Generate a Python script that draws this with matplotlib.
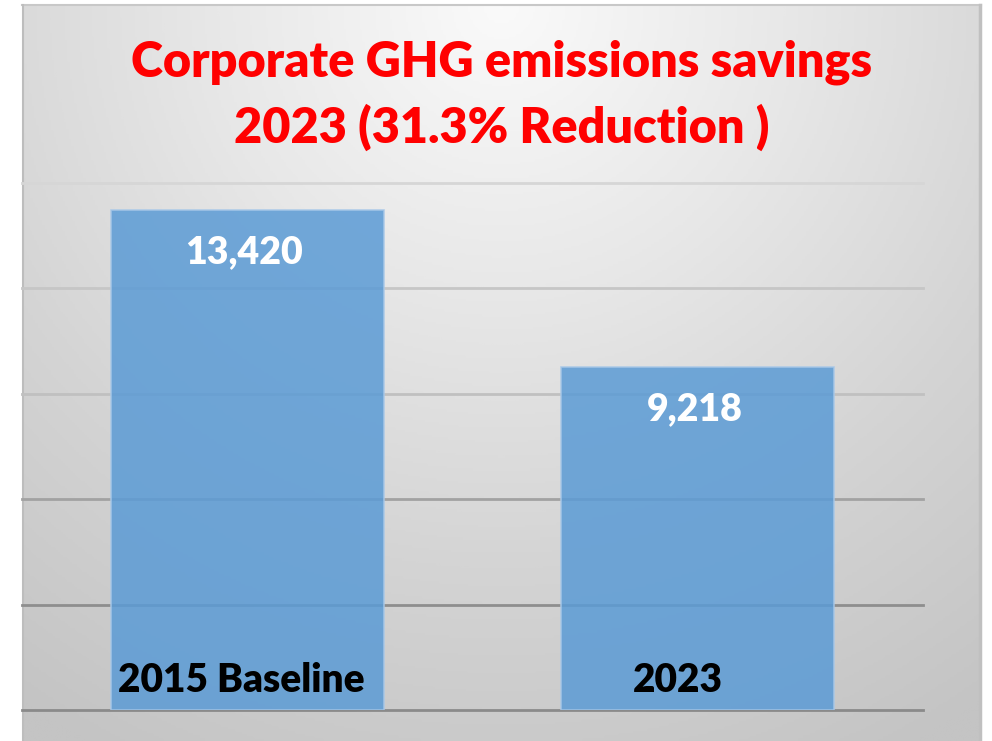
import numpy as np
import matplotlib
matplotlib.use("Agg")
import matplotlib.pyplot as plt
from matplotlib.colors import LinearSegmentedColormap

# ---- data ----
categories = ["2015 Baseline", "2023"]
values = [13420, 9218]
value_labels = ["13,420", "9,218"]
title_lines = ["Corporate GHG emissions savings", "2023 (31.3% Reduction )"]

W, H = 992, 741
fig = plt.figure(figsize=(W / 100, H / 100), dpi=100)
fig.patch.set_facecolor("white")

# background panel with radial gradient
bx0, by0, bx1, by1 = 22, 5, 981, 741
bg = fig.add_axes([bx0 / W, 1 - by1 / H, (bx1 - bx0) / W, (by1 - by0) / H])
bg.set_axis_off()
ny, nx = 300, 400
yy, xx = np.mgrid[0:ny, 0:nx]
xn = (xx / (nx - 1) - 0.5) * 1.3
yn = yy / (ny - 1) * 1.0
r = np.sqrt(xn ** 2 + yn ** 2)
r = np.clip(r / 1.15, 0, 1)
cmap = LinearSegmentedColormap.from_list("bgc", ["#fafafa", "#e8e8e8", "#d4d4d4", "#c4c4c4"])
bg.imshow(r, cmap=cmap, aspect="auto", extent=[0, 1, 0, 1], origin="upper", vmin=0, vmax=1)
bg.set_xlim(0, 1)
bg.set_ylim(0, 1)
bg.plot([0, 1], [0.9995, 0.9995], color="#c8c8c8", lw=1.5, transform=bg.transAxes, clip_on=False)
bg.plot([0.0008, 0.0008], [0, 1], color="#bdbdbd", lw=1.5, transform=bg.transAxes, clip_on=False)
bg.plot([0.9985, 0.9985], [0, 1], color="#c0c0c0", lw=2.5, transform=bg.transAxes, clip_on=False)

# plot axes
px0, py0, px1, py1 = 22, 183, 923, 710
ax = fig.add_axes([px0 / W, 1 - py1 / H, (px1 - px0) / W, (py1 - py0) / H])
ax.patch.set_alpha(0)
for s in ax.spines.values():
    s.set_visible(False)

bar_h = 500  # px of the first bar
ymax = values[0] * (py1 - py0) / bar_h
ax.set_ylim(0, ymax)
ax.set_xlim(-0.5, 1.5)

grid_vals = np.linspace(0, ymax, 6)
grid_cols = ["#8a8a8a", "#8e8e8e", "#a2a2a2", "#c0c0c0", "#c6c6c6", "#d6d6d6"]
for gv, gc in zip(grid_vals, grid_cols):
    ax.axhline(gv, color=gc, lw=2, zorder=1, clip_on=False)

x = np.arange(len(categories))
bars = ax.bar(x, values, width=0.606, color="#5b9bd5", alpha=0.85,
              edgecolor="#a8c8e8", linewidth=1.2, zorder=2)

ax.set_xticks([])
ax.set_yticks([])

font = "Lato"
for xi, v, lab in zip(x, values, value_labels):
    ax.annotate(lab, (xi, v), xytext=(-2, -38.5), textcoords="offset points",
                ha="center", va="baseline", color="white", fontsize=27,
                fontweight="heavy", family=font, zorder=3)

cat_offsets = [-4, -14]
for xi, cat, off in zip(x, categories, cat_offsets):
    ax.annotate(cat, (xi, 0), xytext=(off, 13), textcoords="offset points",
                ha="center", va="baseline", color="black", fontsize=28,
                fontweight="heavy", family=font, zorder=3)

fig.text(502 / W, 1 - 62 / H, title_lines[0], ha="center", va="center",
         color="#ff0000", fontsize=35, fontweight="heavy", family=font)
fig.text(502 / W, 1 - 127 / H, title_lines[1], ha="center", va="center",
         color="#ff0000", fontsize=35, fontweight="heavy", family=font)

fig.savefig("out.png", dpi=100)
